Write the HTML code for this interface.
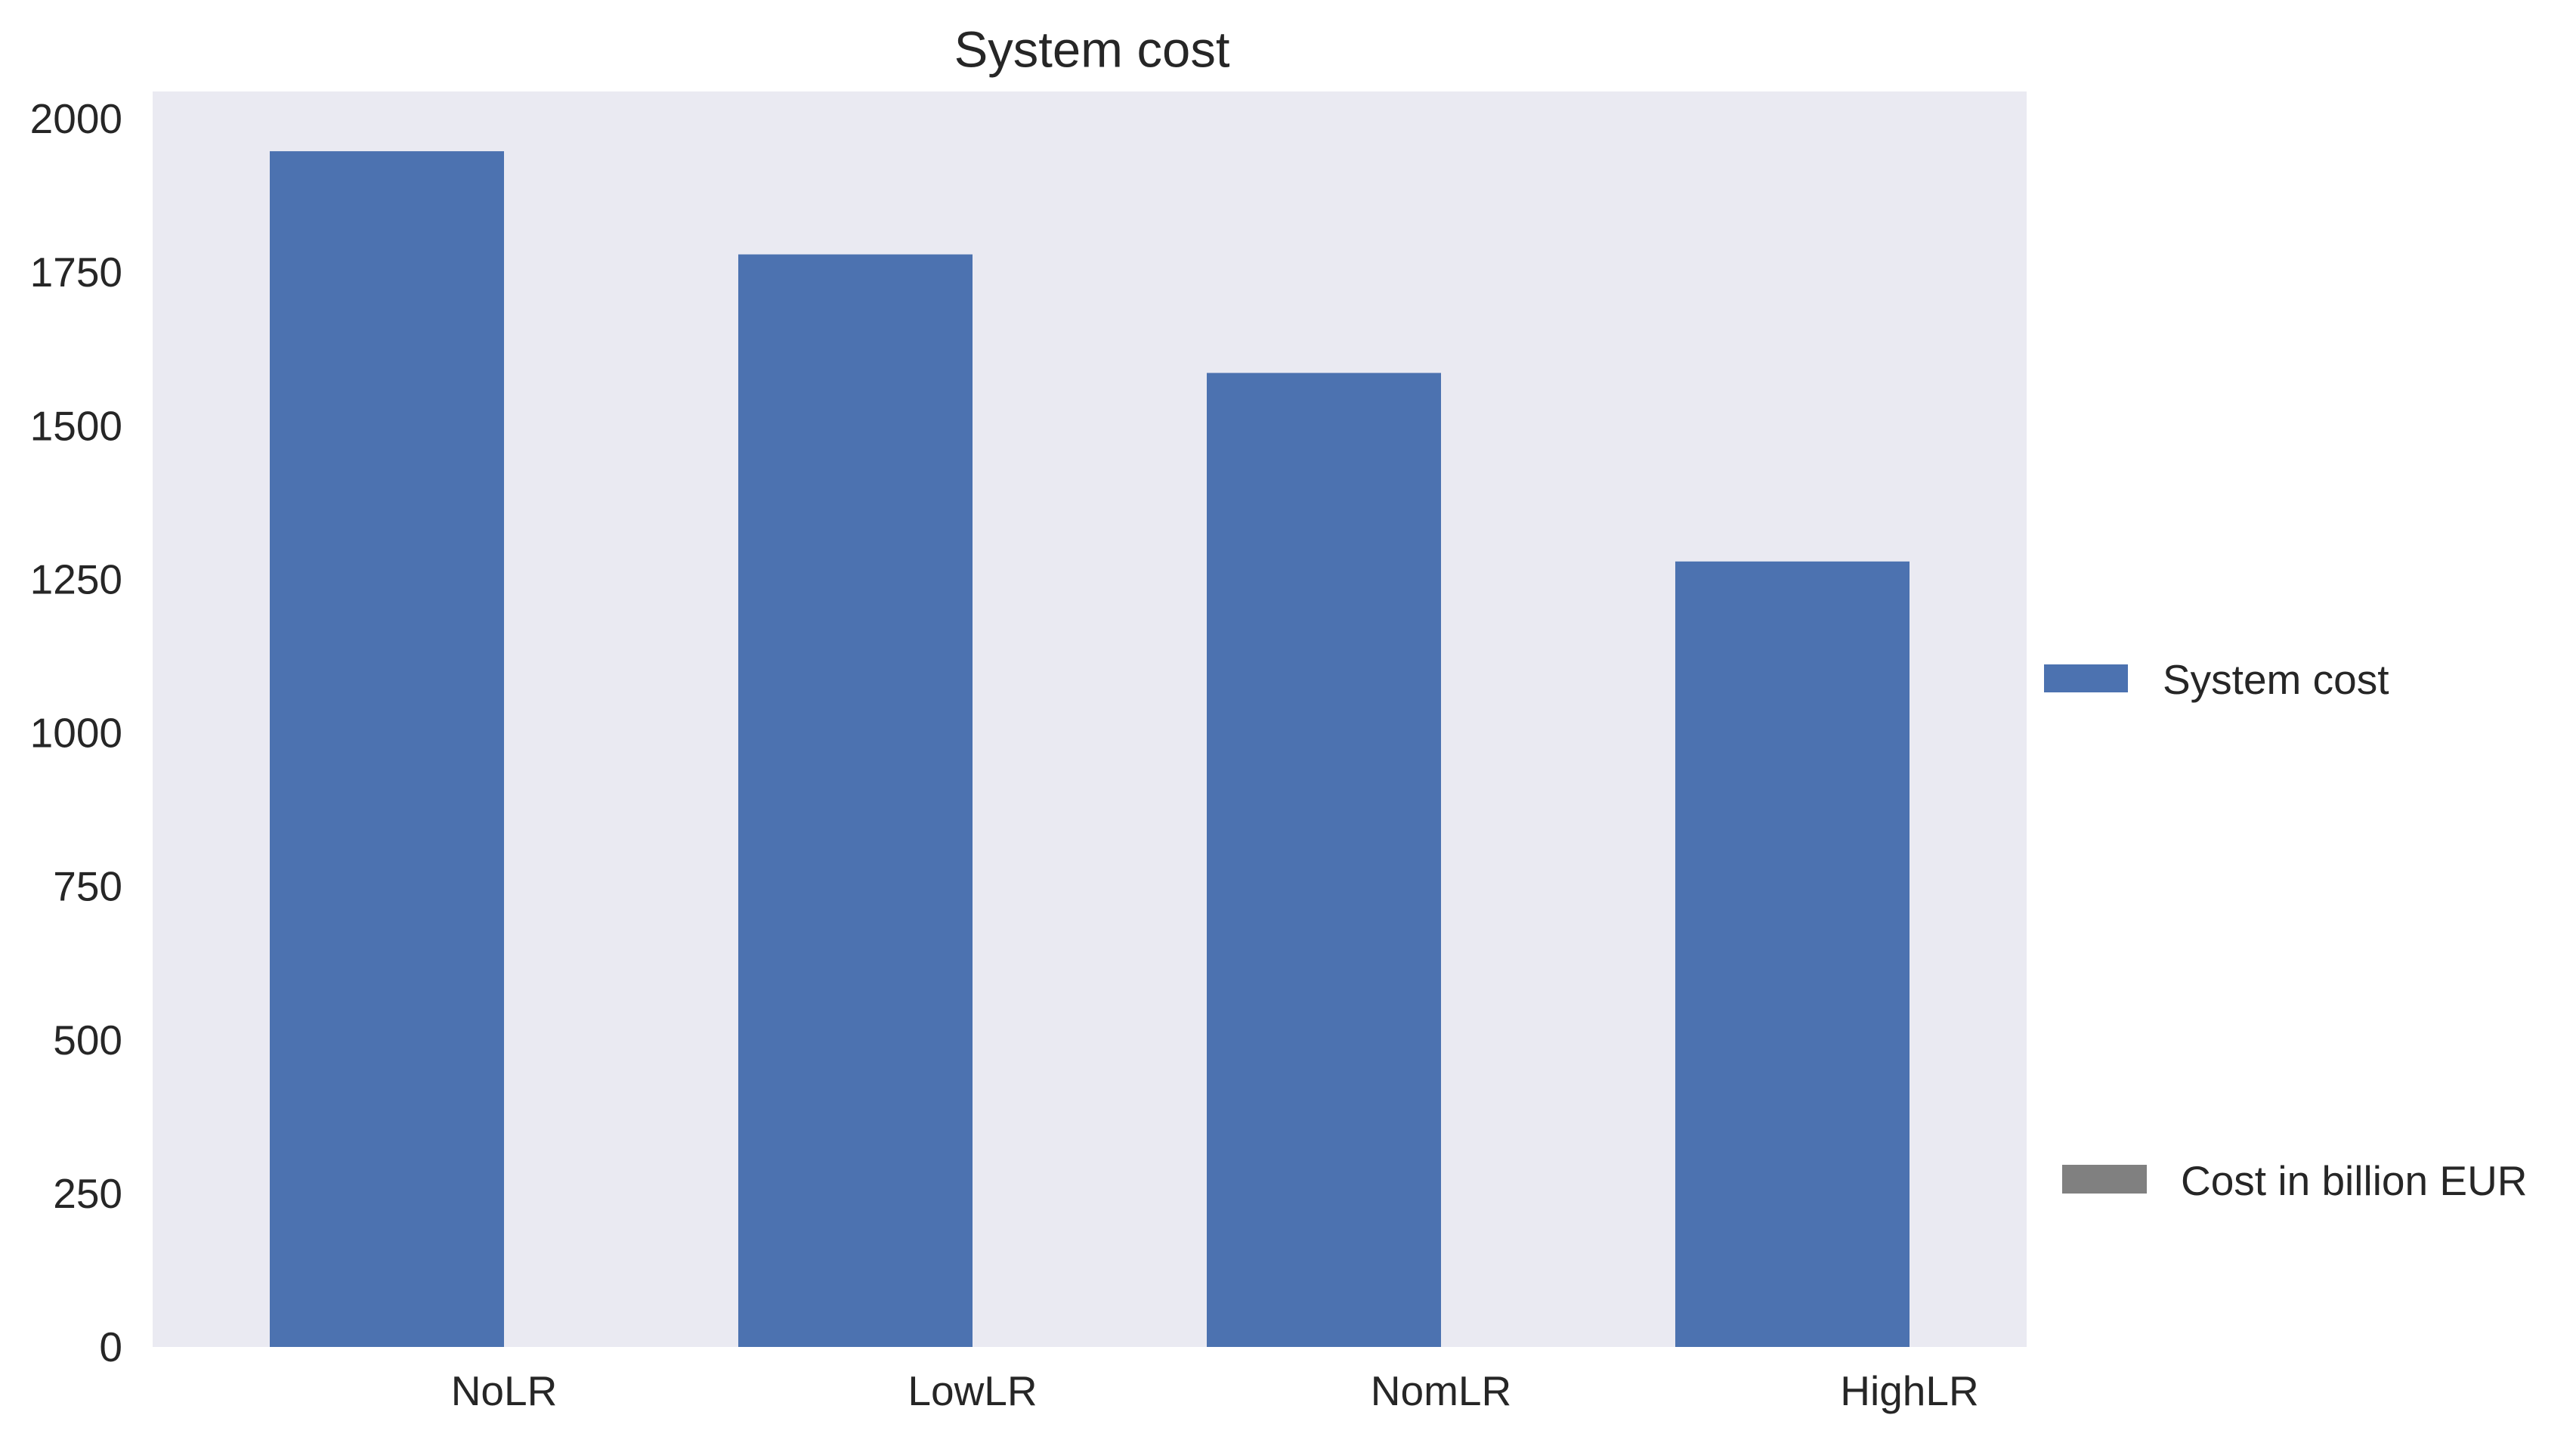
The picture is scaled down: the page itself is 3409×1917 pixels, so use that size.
<!DOCTYPE html>
<html><head><meta charset="utf-8"><style>
html,body{margin:0;padding:0;background:#fff;}
svg text{font-family:"Liberation Sans",Arial,sans-serif;fill:#262626;}
</style></head><body>
<svg id="chart" width="3409" height="1912" viewBox="0 0 3409 1912" xmlns="http://www.w3.org/2000/svg">
<text x="1445" y="66" font-size="67" text-anchor="middle" dominant-baseline="central">System cost</text>
<rect x="202" y="121" width="2480" height="1661" fill="#eaeaf2"/>
<g id="bars"></g>
<g id="yticks"></g>
<g id="xticks"></g>
<rect x="2705" y="879" width="111" height="37" fill="#4c72b0"/>
<text x="2862" y="899" font-size="55" dominant-baseline="central">System cost</text>
<rect x="2729" y="1541" width="112" height="38" fill="#808080"/>
<text x="2886" y="1562" font-size="55" dominant-baseline="central">Cost in billion EUR</text>
</svg>
<script>
const categories = ["NoLR", "LowLR", "NomLR", "HighLR"];
const systemCost = [1947, 1779, 1586, 1279];
const yTicks = [0, 250, 500, 750, 1000, 1250, 1500, 1750, 2000];

const NS = "http://www.w3.org/2000/svg";
const plotBottom = 1782, pxPerUnit = 0.8125;
const firstBarLeft = 357, barStep = 620, barWidth = 310;
function yScale(v){ return plotBottom - v * pxPerUnit; }
function xLeft(i){ return firstBarLeft + i * barStep; }

const gb = document.getElementById('bars');
const gx = document.getElementById('xticks');
categories.forEach((c, i) => {
  const r = document.createElementNS(NS, 'rect');
  
  
  r.setAttribute('x', xLeft(i));
  r.setAttribute('y', yScale(systemCost[i]));
  r.setAttribute('width', barWidth);
  r.setAttribute('height', plotBottom - yScale(systemCost[i]));
  r.setAttribute('fill', '#4c72b0');
  gb.appendChild(r);
  const t = document.createElementNS(NS, 'text');
  
  
  t.setAttribute('x', xLeft(i) + barWidth);
  t.setAttribute('y', 1840);
  t.setAttribute('font-size', '55');
  t.setAttribute('text-anchor', 'middle');
  t.setAttribute('dominant-baseline', 'central');
  t.textContent = c;
  gx.appendChild(t);
});
const gy = document.getElementById('yticks');
yTicks.forEach(v => {
  const t = document.createElementNS(NS, 'text');
  
  
  t.setAttribute('x', 162);
  t.setAttribute('y', yScale(v));
  t.setAttribute('font-size', '55');
  t.setAttribute('text-anchor', 'end');
  t.setAttribute('dominant-baseline', 'central');
  t.textContent = v;
  gy.appendChild(t);
});
</script>
</body></html>
